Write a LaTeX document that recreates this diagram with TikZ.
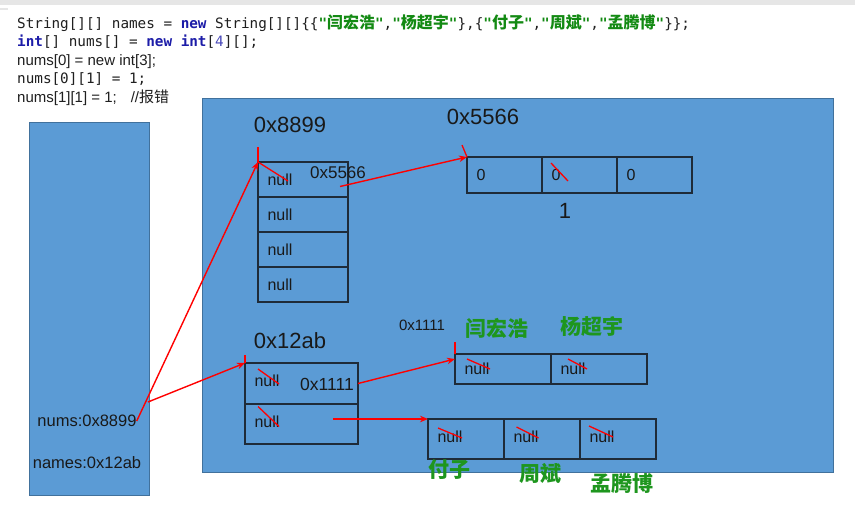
\documentclass[tikz,border=0pt]{standalone}
\usepackage{fontspec}
\setmainfont{Liberation Sans}
\newfontfamily\codefont{DejaVu Sans Mono}
\newfontfamily\cjk{Noto Sans CJK SC}
\usetikzlibrary{positioning}
\usetikzlibrary{arrows.meta}
\definecolor{memblue}{HTML}{5B9BD5}
\definecolor{memedge}{HTML}{41719C}
\definecolor{cellline}{HTML}{1F2B38}
\definecolor{kwblue}{HTML}{1C1CA8}
\definecolor{strgreen}{HTML}{138A13}
\definecolor{namegreen}{HTML}{1E961E}
\definecolor{topbar}{HTML}{E6E6E6}
\newcommand{\fsz}[1]{\fontsize{#1}{#1}\selectfont}
\newcommand{\kw}[1]{{\bfseries\color{kwblue}#1}}
\newcommand{\jstr}[1]{{\bfseries\color{strgreen}"{\cjk\fsz{16}#1}"}}

\begin{document}
\begin{tikzpicture}
	[	x=1pt, y=-1pt,
		area/.style={rectangle,fill=memblue,draw=memedge,line width=0.8pt,inner sep=0pt,anchor=north west},
		cell/.style={rectangle,draw=cellline,line width=1.2pt,inner xsep=9.5pt,inner ysep=0pt,outer sep=0pt,align=left,font=\fsz{16},text=black!90},
		code/.style={anchor=base west,inner sep=0pt,text=black!88},
		addr/.style={inner sep=0pt,font=\fsz{22},text=black!90},
		ref/.style={inner sep=0pt,font=\fsz{17},text=black!90},
		who/.style={inner sep=0pt,font=\cjk\bfseries\fsz{21},text=namegreen},
		vec/.style={-{Stealth[length=8pt,width=6.5pt]},red,line width=1.4pt},
		strike/.style={red,line width=1.3pt}	]
	\useasboundingbox (0,0) rectangle (855,506);
	\fill[white] (0,0) rectangle (855,506);
	\fill[topbar] (0,0) rectangle (855,5);
	\fill[topbar] (0,8) rectangle (8,10);

	\node[code] (line1) at (17,28) {\codefont\fsz{14.3}String[][] names = \kw{new} String[][]\{\{\jstr{闫宏浩},\jstr{杨超宇}\},\{\jstr{付子},\jstr{周斌},\jstr{孟腾博}\}\};};
	\node[code] (line2) at (17,46) {\codefont\fsz{14.3}\kw{int}[] nums[] = \kw{new} \kw{int}[{\color{kwblue!80}4}][];};
	\node[code] (line3) at (17,65) {\fsz{15}nums[0] = new int[3];};
	\node[code] (line4) at (17,83) {\codefont\fsz{14.3}nums[0][1] = 1;};
	\node[code] (line5) at (17,102) {\fsz{15}nums[1][1] = 1;\hspace{14pt}//{\cjk 报错}};

	\node[area,minimum width=120pt,minimum height=373pt] (stack) at (29,122) {};
	\node[area,minimum width=631pt,minimum height=374pt] (heap) at (202,98) {};

	\node[ref,font=\fsz{16.5}] (numsref) at (87,421) {nums:0x8899};
	\node[ref,font=\fsz{16.5}] (namesref) at (87,463) {names:0x12ab};
	\coordinate (namesout) at (148,402);

	\node[addr] (a8899) at (290,125) {0x8899};
	\node[cell,text width=71pt,minimum height=35pt,anchor=north west] (n0) at (258,162) {null};
	\node[cell,text width=71pt,minimum height=35pt] (n1) [below=0pt of n0] {null};
	\node[cell,text width=71pt,minimum height=35pt] (n2) [below=0pt of n1] {null};
	\node[cell,text width=71pt,minimum height=35pt] (n3) [below=0pt of n2] {null};
	\node[ref] (ref0) at (338,173) {0x5566};

	\node[addr] (a5566) at (483,117) {0x5566};
	\node[cell,text width=56pt,minimum height=36pt,anchor=north west] (i0) at (467,157) {0};
	\node[cell,text width=56pt,minimum height=36pt] (i1) [right=0pt of i0] {0};
	\node[cell,text width=56pt,minimum height=36pt] (i2) [right=0pt of i1] {0};
	\node[addr] (one) at (565,211) {1};

	\node[addr] (a12ab) at (290,341) {0x12ab};
	\node[cell,text width=94pt,minimum height=41pt,anchor=north west] (c0) at (245,363) {\raisebox{5pt}{null}};
	\node[cell,text width=94pt,minimum height=40pt] (c1) [below=0pt of c0] {\raisebox{5pt}{null}};
	\node[ref,font=\fsz{17.5}] (ref1) at (327,384) {0x1111};

	\node[ref,font=\fsz{15}] (a1111) at (422,325) {0x1111};
	\node[cell,text width=77pt,minimum height=30pt,anchor=north west] (k0) at (455,354) {null};
	\node[cell,text width=77pt,minimum height=30pt] (k1) [right=0pt of k0] {null};
	\node[who] (nm1) at (497,328) {闫宏浩};
	\node[who] (nm2) at (592,327) {杨超宇};

	\node[cell,text width=57pt,minimum height=40pt,anchor=north west] (m0) at (428,419) {\raisebox{4pt}{null}};
	\node[cell,text width=57pt,minimum height=40pt] (m1) [right=0pt of m0] {\raisebox{4pt}{null}};
	\node[cell,text width=57pt,minimum height=40pt] (m2) [right=0pt of m1] {\raisebox{4pt}{null}};
	\node[who] (nm3) at (449,470) {付子};
	\node[who] (nm4) at (540,473) {周斌};
	\node[who] (nm5) at (622,483) {孟腾博};

	\draw[vec] (numsref.east) to (n0.north west);
	\draw[vec] (namesout) to (c0.north west);
	\draw[vec] ([xshift=-8pt,yshift=-7pt]n0.east) to (i0.north west);
	\draw[vec] (c0.east) to ([yshift=-5pt]k0.north west);
	\draw[vec] ([xshift=-25pt,yshift=5pt]c1.east) to (m0.north west);

	\draw[strike] (n0.north west) -- ++(0,-15);
	\draw[strike] (n0.north west) -- ++(30,19);
	\draw[strike] (i0.north west) -- ++(-5,-12);
	\draw[strike] ([shift={(9,6)}]i1.north west) -- ++(17,18);
	\draw[strike] (c0.north west) -- ++(0,-8);
	\draw[strike] ([shift={(13,6)}]c0.north west) -- ++(21,15);
	\draw[strike] ([shift={(13,2.5)}]c1.north west) -- ++(21,20);
	\draw[strike] (k0.north west) -- ++(0,-12);
	\draw[strike] ([shift={(12,5)}]k0.north west) -- ++(23,10);
	\draw[strike] ([shift={(17,5)}]k1.north west) -- ++(19,10);
	\draw[strike] ([shift={(10,9)}]m0.north west) -- ++(24,10);
	\draw[strike] ([shift={(12.5,8)}]m1.north west) -- ++(22,11);
	\draw[strike] ([shift={(9,7)}]m2.north west) -- ++(24,11);
\end{tikzpicture}
\end{document}
